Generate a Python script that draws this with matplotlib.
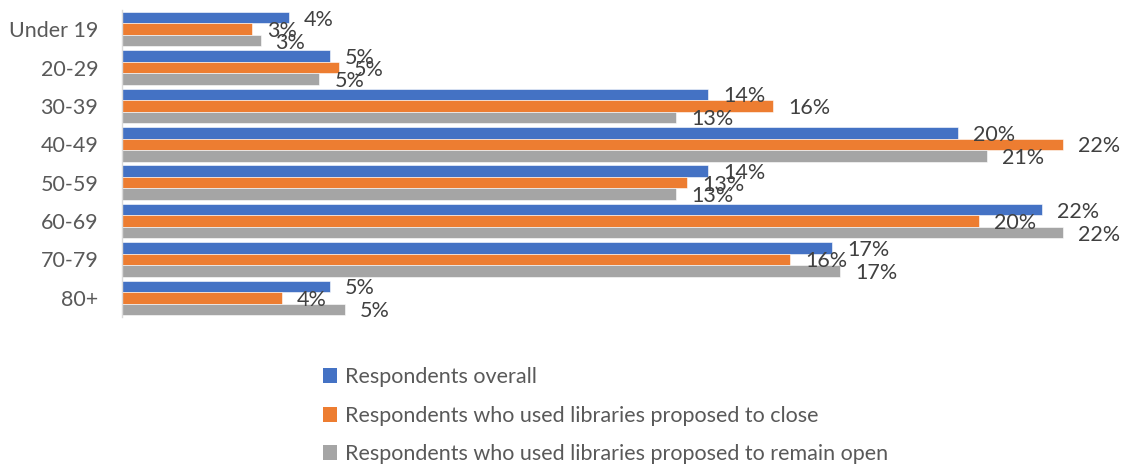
import matplotlib
matplotlib.use("Agg")
import matplotlib.pyplot as plt
import numpy as np
from matplotlib.patches import Patch

categories = ["Under 19", "20-29", "30-39", "40-49", "50-59", "60-69", "70-79", "80+"]
series_names = ["Respondents overall",
                "Respondents who used libraries proposed to close",
                "Respondents who used libraries proposed to remain open"]
overall = [3.98, 4.95, 13.95, 19.9, 13.95, 21.9, 16.9, 4.95]
close = [3.1, 5.17, 15.5, 22.4, 13.45, 20.4, 15.9, 3.8]
remain = [3.3, 4.7, 13.2, 20.6, 13.2, 22.4, 17.1, 5.3]
overall_labels = ["4%", "5%", "14%", "20%", "14%", "22%", "17%", "5%"]
close_labels = ["3%", "5%", "16%", "22%", "13%", "20%", "16%", "4%"]
remain_labels = ["3%", "5%", "13%", "21%", "13%", "22%", "17%", "5%"]

colors = ["#4472C4", "#ED7D31", "#A5A5A5"]
FONT = "Lato"
plt.rcParams["font.family"] = [FONT, "DejaVu Sans"]
FS = 15.5

W, H = 1126, 471
fig = plt.figure(figsize=(W / 100, H / 100), dpi=100)
left_px, top_px, bottom_px = 122, 10, 317
ax = fig.add_axes([left_px / W, (H - bottom_px) / H, (W - left_px) / W, (bottom_px - top_px) / H])

y = np.arange(len(categories))
bh = 0.3
all_vals = [overall, close, remain]
all_labels = [overall_labels, close_labels, remain_labels]
for i, (vals, labs) in enumerate(zip(all_vals, all_labels)):
    pos = y + (i - 1) * bh
    ax.barh(pos, vals, height=bh, color=colors[i], edgecolor="white", linewidth=0.4)
    for p, v, l in zip(pos, vals, labs):
        ax.annotate(l, (v, p), xytext=(15, -2), textcoords="offset pixels",
                    ha="left", va="center", fontsize=FS, color="#404040",
                    annotation_clip=False)

ax.set_ylim(len(categories) - 0.5, -0.5)
ax.set_xlim(0, (W - left_px) / 42.0)
ax.set_yticks(y)
ax.set_yticklabels(categories, fontsize=FS, color="#595959")
ax.tick_params(axis="y", length=0, pad=17)
ax.set_xticks([])
for s in ["top", "right", "bottom"]:
    ax.spines[s].set_visible(False)
ax.spines["left"].set_color("#D9D9D9")
ax.spines["left"].set_linewidth(1)

handles = [Patch(facecolor=c, edgecolor="none") for c in colors]
leg = fig.legend(handles, series_names, loc="upper left",
                 bbox_to_anchor=(304 / W, 1 - 348 / H), frameon=False,
                 fontsize=FS, labelcolor="#595959", handlelength=0.65,
                 handleheight=0.7, handletextpad=0.35, labelspacing=0.85)

fig.savefig("out.png", dpi=100)
